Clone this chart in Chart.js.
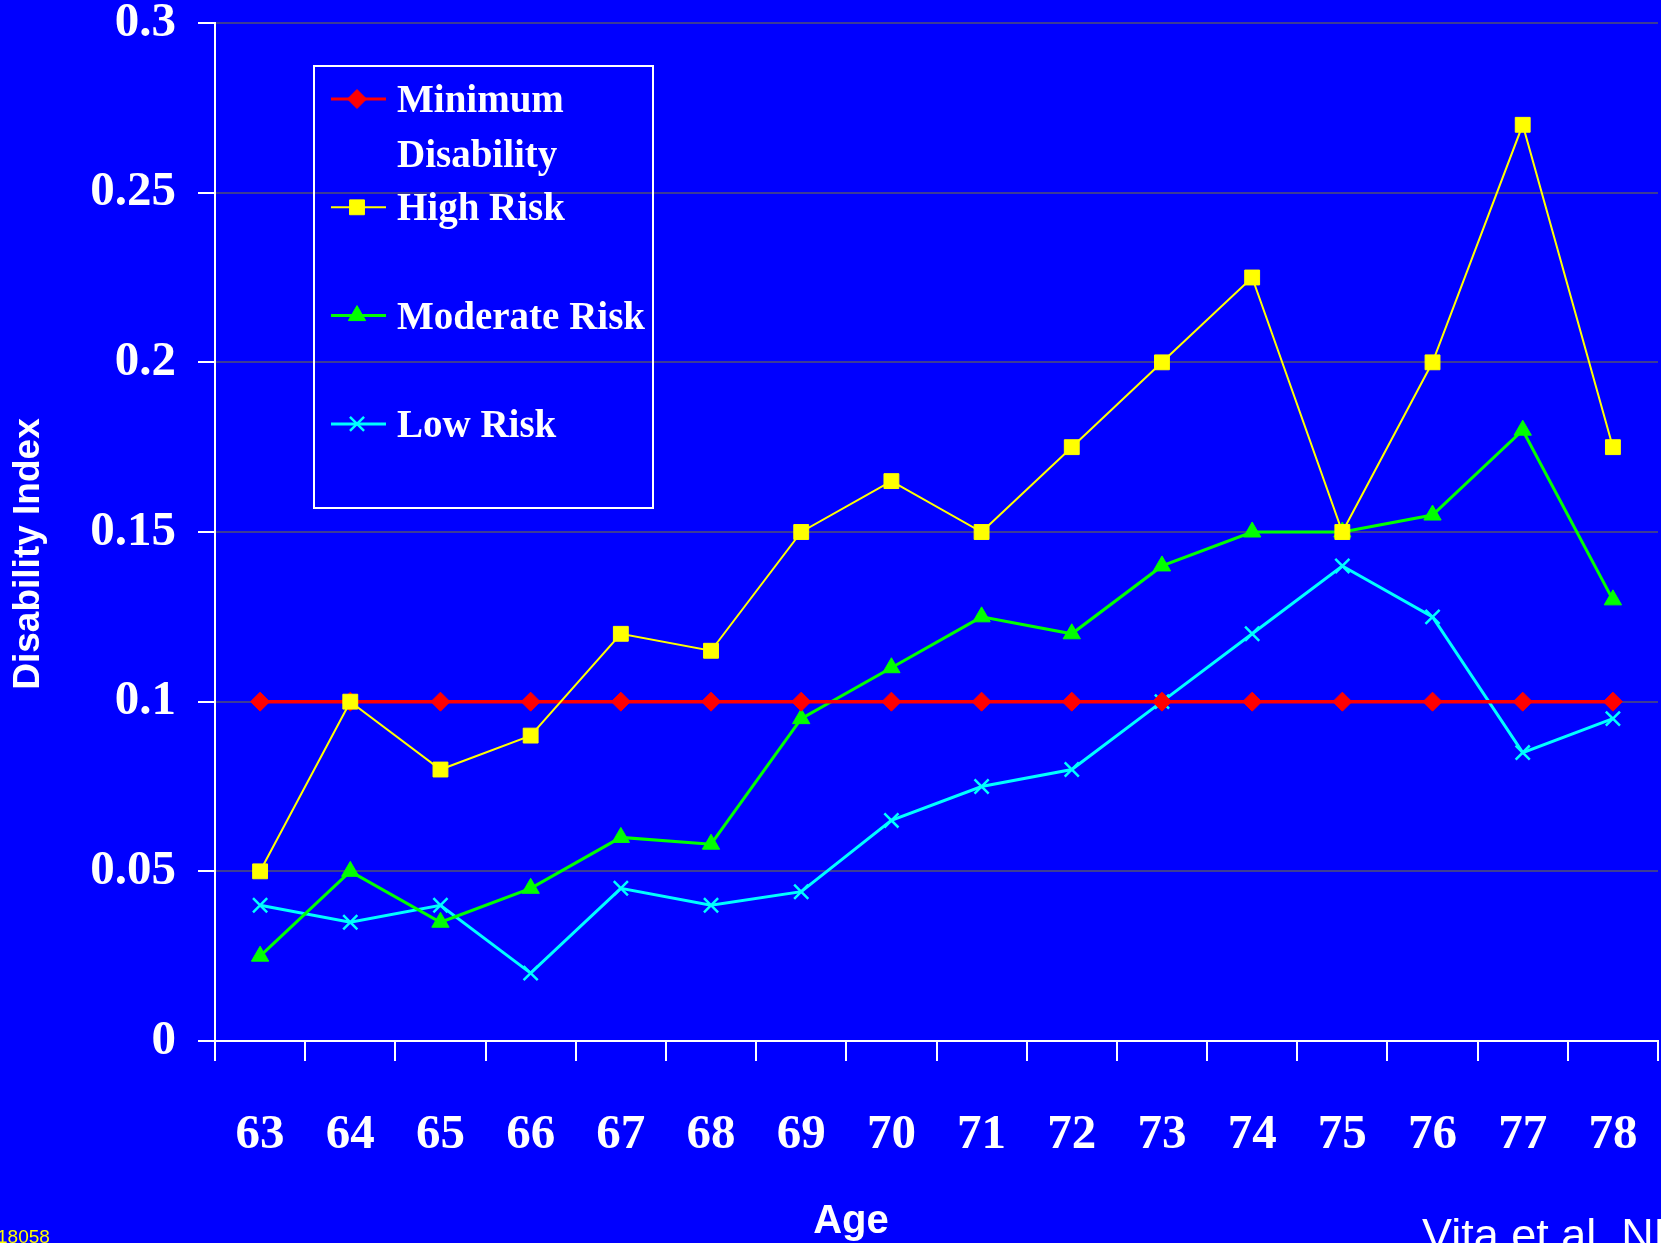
<!DOCTYPE html>
<html>
<head>
<meta charset="utf-8">
<script src="https://cdn.jsdelivr.net/npm/chart.js@4.4.0/dist/chart.umd.min.js"></script>
<style>
  html, body { margin: 0; padding: 0; background: #0000ff; overflow: hidden; }
  #wrap { position: relative; width: 1661px; height: 1243px; }
</style>
</head>
<body>
<div id="wrap"><canvas id="disabilityChart" width="1661" height="1243"></canvas></div>
<script>
// values
const ages = ['63', '64', '65', '66', '67', '68', '69', '70', '71', '72', '73', '74', '75', '76', '77', '78']
const minimumDisability = [0.1, 0.1, 0.1, 0.1, 0.1, 0.1, 0.1, 0.1, 0.1, 0.1, 0.1, 0.1, 0.1, 0.1, 0.1, 0.1]
const highRisk = [0.05, 0.1, 0.08, 0.09, 0.12, 0.115, 0.15, 0.165, 0.15, 0.175, 0.2, 0.225, 0.15, 0.2, 0.27, 0.175]
const moderateRisk = [0.025, 0.05, 0.035, 0.045, 0.06, 0.058, 0.095, 0.11, 0.125, 0.12, 0.14, 0.15, 0.15, 0.155, 0.18, 0.13]
const lowRisk = [0.04, 0.035, 0.04, 0.02, 0.045, 0.04, 0.044, 0.065, 0.075, 0.08, 0.1, 0.12, 0.14, 0.125, 0.085, 0.095]
const yTickLabels = ['0', '0.05', '0.1', '0.15', '0.2', '0.25', '0.3']

const serif = '"Liberation Serif", "Times New Roman", serif'
const sans = '"Liberation Sans", Arial, sans-serif'

// legend box, axis titles and the footer notes of the slide
const slideText = {
    id: 'slideText',
    afterDraw(chart) {
        const ctx = chart.ctx
        ctx.save()

        // legend
        ctx.strokeStyle = '#ffffff'
        ctx.lineWidth = 2
        ctx.strokeRect(314, 66, 339, 442)
        ctx.font = 'bold 39px ' + serif
        ctx.textBaseline = 'alphabetic'
        ctx.textAlign = 'left'
        chart.data.datasets.forEach((ds, i) => {
            const y = 99 + i * 108.3
            ctx.strokeStyle = ds.borderColor
            ctx.fillStyle = ds.borderColor
            ctx.lineWidth = Math.min(ds.borderWidth, 3)
            ctx.beginPath()
            ctx.moveTo(331, y)
            ctx.lineTo(386, y)
            ctx.stroke()
            ctx.lineWidth = ds.pointBorderWidth
            Chart.helpers.drawPoint(ctx, {
                pointStyle: ds.pointStyle, rotation: 0,
                radius: ds.pointRadius, borderWidth: ds.pointBorderWidth
            }, 357, y)

            // wrap long labels like the slide does
            ctx.fillStyle = '#ffffff'
            const words = ds.label.split(' ')
            const lines = []
            let cur = ''
            words.forEach(w => {
                const t = cur ? cur + ' ' + w : w
                if (ctx.measureText(t).width > 250 && cur) {
                    lines.push(cur)
                    cur = w
                } else cur = t
            })
            lines.push(cur)
            lines.forEach((l, k) => ctx.fillText(l, 397, y + 13 + k * 55))
        })

        // axis titles
        ctx.fillStyle = '#ffffff'
        ctx.font = 'bold 40px ' + sans
        ctx.textAlign = 'center'
        ctx.fillText('Age', 851, 1233)
        ctx.save()
        ctx.font = 'bold 37px ' + sans
        ctx.translate(39, 554)
        ctx.rotate(-Math.PI / 2)
        ctx.fillText('Disability Index', 0, 0)
        ctx.restore()

        // footer notes (cut by the slide edge)
        ctx.textAlign = 'left'
        ctx.font = '45px ' + sans
        ctx.fillText('Vita et al. NEJM', 1422, 1250)
        ctx.fillStyle = '#ffff00'
        ctx.font = '19px ' + sans
        ctx.fillText('18058', -3, 1243)
        ctx.restore()
    }
}

const ctx = document.getElementById('disabilityChart').getContext('2d')
new Chart(ctx, {
    type: 'line',
    data: {
        labels: ages,
        datasets: [{
            label: 'Minimum Disability',
            data: minimumDisability,
            borderColor: '#ff0000',
            backgroundColor: '#ff0000',
            borderWidth: 3.5,
            pointStyle: 'rectRot',
            pointRadius: 9.5,
            pointBorderWidth: 1
        }, {
            label: 'High Risk',
            data: highRisk,
            order: -1,
            borderColor: '#ffff00',
            backgroundColor: '#ffff00',
            borderWidth: 2,
            pointStyle: 'rect',
            pointRadius: 10.5,
            pointBorderWidth: 1
        }, {
            label: 'Moderate Risk',
            data: moderateRisk,
            borderColor: '#00ff00',
            backgroundColor: '#00ff00',
            borderWidth: 3,
            pointStyle: 'triangle',
            pointRadius: 10,
            pointBorderWidth: 1
        }, {
            label: 'Low Risk',
            data: lowRisk,
            borderColor: '#00ffff',
            backgroundColor: '#00ffff',
            borderWidth: 3,
            pointStyle: 'crossRot',
            pointRadius: 10,
            pointBorderWidth: 2.5
        }]
    },
    options: {
        responsive: false,
        animation: false,
        layout: { autoPadding: false, padding: { top: 23, right: 3, left: 0, bottom: 0 } },
        plugins: {
            legend: { display: false },
            tooltip: { enabled: false }
        },
        scales: {
            x: {
                offset: true,
                afterFit: s => { s.height = 202; s.paddingLeft = 0; s.paddingRight = 0 },
                border: { color: '#ffffff', width: 2 },
                grid: {
                    offset: true,
                    drawOnChartArea: false,
                    tickColor: '#ffffff',
                    tickLength: 20,
                    lineWidth: 2
                },
                ticks: {
                    color: '#ffffff',
                    padding: 50,
                    maxRotation: 0,
                    font: { family: serif, size: 49, weight: 'bold', lineHeight: 1 }
                }
            },
            y: {
                min: 0,
                max: 0.3,
                afterFit: s => { s.width = 215; s.paddingTop = 0; s.paddingBottom = 0 },
                border: { color: '#ffffff', width: 2 },
                grid: {
                    color: '#3c3c96',
                    lineWidth: 2,
                    tickColor: '#ffffff',
                    tickLength: 17
                },
                ticks: {
                    stepSize: 0.05,
                    color: '#ffffff',
                    padding: 22,
                    font: { family: serif, size: 49, weight: 'bold', lineHeight: 1 },
                    callback: (v, i) => yTickLabels[i]
                }
            }
        }
    },
    plugins: [slideText]
})
</script>
</body>
</html>
